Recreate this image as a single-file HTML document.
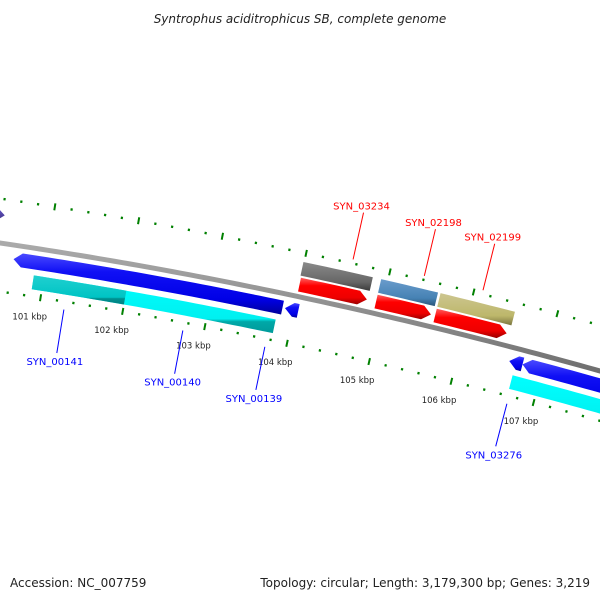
<!DOCTYPE html>
<html><head><meta charset="utf-8"><style>
html,body{margin:0;padding:0;background:#fff}
svg{display:block}
text{font-family:"DejaVu Sans","Liberation Sans",sans-serif}
</style></head><body>
<svg id="map" width="600" height="600" viewBox="0 0 600 600" xmlns="http://www.w3.org/2000/svg">
<defs>
<linearGradient id="gBlue" x1="0" y1="0" x2="0" y2="1"><stop offset="0" stop-color="#4a4aff"/><stop offset="0.3" stop-color="#1010f5"/><stop offset="0.75" stop-color="#0000e6"/><stop offset="1" stop-color="#00009a"/></linearGradient>
<linearGradient id="gCyan" x1="0" y1="0" x2="0" y2="1"><stop offset="0" stop-color="#00ffff"/><stop offset="0.75" stop-color="#00f0f0"/><stop offset="0.8" stop-color="#00a8a8"/><stop offset="1" stop-color="#009a9a"/></linearGradient>
<linearGradient id="gCyanD" x1="0" y1="0" x2="0" y2="1"><stop offset="0" stop-color="#20d0d0"/><stop offset="0.75" stop-color="#00c4c4"/><stop offset="0.8" stop-color="#009090"/><stop offset="1" stop-color="#008080"/></linearGradient>
<linearGradient id="gRed" x1="0" y1="0" x2="0" y2="1"><stop offset="0" stop-color="#ff6060"/><stop offset="0.3" stop-color="#ff0000"/><stop offset="0.75" stop-color="#ee0000"/><stop offset="1" stop-color="#990000"/></linearGradient>
<linearGradient id="gGray" x1="0" y1="0" x2="0" y2="1"><stop offset="0" stop-color="#8a8a8a"/><stop offset="0.7" stop-color="#666"/><stop offset="1" stop-color="#3a3a3a"/></linearGradient>
<linearGradient id="gSteel" x1="0" y1="0" x2="0" y2="1"><stop offset="0" stop-color="#6a9ccc"/><stop offset="0.7" stop-color="#4682b4"/><stop offset="1" stop-color="#2a5478"/></linearGradient>
<linearGradient id="gKhaki" x1="0" y1="0" x2="0" y2="1"><stop offset="0" stop-color="#cdc690"/><stop offset="0.7" stop-color="#bdb76b"/><stop offset="1" stop-color="#7a7540"/></linearGradient>
<linearGradient id="gPurple" x1="0" y1="0" x2="0" y2="1"><stop offset="0" stop-color="#6a5acd"/><stop offset="1" stop-color="#3a2f80"/></linearGradient>
<linearGradient id="gBack" x1="0" y1="0" x2="0" y2="1"><stop offset="0" stop-color="#b0b0b0"/><stop offset="0.5" stop-color="#888"/><stop offset="1" stop-color="#555"/></linearGradient>
</defs>
<text x="300" y="23" text-anchor="middle" font-size="12" font-style="italic" fill="#222">Syntrophus aciditrophicus SB, complete genome</text>
<g id="layer"></g>
<text x="10" y="587" font-size="12" fill="#222">Accession: NC_007759</text>
<text x="590" y="587" text-anchor="end" font-size="12" fill="#222">Topology: circular; Length: 3,179,300 bp; Genes: 3,219</text>
</svg>
<script>
// data (kbp)
const featStart = [100.35, 100.61, 100.88, 103.89, 106.60, 106.76, 106.68, 103.99, 104.00, 104.92, 104.92, 105.63, 105.63, 100.30];
const featEnd   = [100.43, 103.86, 103.81, 104.05, 106.76, 108.60, 108.60, 104.82, 104.81, 105.60, 105.58, 106.52, 106.49, 100.40];
const featStrand= [1, -1, 0, -1, -1, -1, 0, 0, 1, 0, 1, 0, 1, 1];
const featRing  = ['outer2','rev1','rev2','rev1','rev1','rev1','rev2','outer2','fwd1','outer2','fwd1','outer2','fwd1','fwd1'];
const featColor = ['gPurple','gBlue','gCyan','gBlue','gBlue','gBlue','gCyan','gGray','gRed','gSteel','gRed','gKhaki','gRed','gRed'];
const featName  = ['purple-feature','gene-syn-00141-00140','cds-syn-00141-00140','gene-syn-00139','gene-syn-03276-left','gene-syn-03276','cds-syn-03276','feature-syn-03234','gene-syn-03234','feature-syn-02198','gene-syn-02198','feature-syn-02199','gene-syn-02199','gene-left-red'];
const tickLabels = [101,102,103,104,105,106,107];
const geneLabels = ['SYN_00141','SYN_00140','SYN_00139','SYN_03276','SYN_03234','SYN_02198','SYN_02199'];
const geneLabelPos = [101.3, 102.75, 103.75, 106.7, 104.55, 105.4, 106.1];
const geneLabelSide = [1,1,1,1,-1,-1,-1];
const geneLabelColor = ['#0000ff','#0000ff','#0000ff','#0000ff','#ff0000','#ff0000','#ff0000'];

const rings = {outer2:[-35,-21], fwd1:[-19,-5], rev1:[7,21], rev2:[27,41]};
function fy(x){return 243+0.1467*x+1.11e-4*x*x;}
function fs(x){return 0.1467+2.22e-4*x;}
function P(k,off){const xb=48+(k-101)*83;const s=fs(xb);const n=Math.sqrt(1+s*s);return [xb-s/n*off, fy(xb)+off/n];}
const NS='http://www.w3.org/2000/svg';
const layer=document.getElementById('layer');
function mk(tag,attrs){const e=document.createElementNS(NS,tag);for(const k in attrs)e.setAttribute(k,attrs[k]);layer.appendChild(e);return e;}
function arc(a,b,off){const pts=[];const N=Math.max(2,Math.ceil((b-a)*10));for(let i=0;i<=N;i++)pts.push(P(a+(b-a)*i/N,off));return pts;}
// backbone
{const top=arc(99.5,109.5,-2.5), bot=arc(99.5,109.5,2.5).reverse();
const e=mk('polygon',{points:top.concat(bot).map(p=>p.join(',')).join(' '),fill:'url(#gBack)'});

}
// ticks
for(let i=0;i<=45;i++){const k=Math.round((100.0+i*0.2)*10)/10;const major=Math.abs(k-Math.round(k))<1e-6;
 for(const off of [-44,48]){const len=major?3.5:1.2;const a=P(k,off-len),b=P(k,off+len);
  const e=mk('line',{x1:a[0],y1:a[1],x2:b[0],y2:b[1],stroke:'#008000','stroke-width':major?2:2.2});
  
  }}
tickLabels.forEach(k=>{const p=P(k,66);const t=mk('text',{x:p[0]-8,y:p[1]+4,'text-anchor':'middle','font-size':'8.5',fill:'#222'});t.textContent=k+' kbp';
 
 });
// features
featStart.forEach((a,i)=>{const b=featEnd[i];const [r1,r2]=rings[featRing[i]];const st=featStrand[i];const h=0.1;let pts;
 if(st===1){const top=arc(a,b-h,r1),bot=arc(a,b-h,r2).reverse();pts=top.concat([P(b,(r1+r2)/2)]).concat(bot);}
 else if(st===-1){const top=arc(a+h,b,r1),bot=arc(a+h,b,r2).reverse();pts=[P(a,(r1+r2)/2)].concat(top).concat(bot);}
 else {pts=arc(a,b,r1).concat(arc(a,b,r2).reverse());}
 const e=mk('polygon',{points:pts.map(p=>p.join(',')).join(' '),fill:'url(#'+featColor[i]+')'});
 
 
 if(featColor[i]==='gCyan'&&i===2){const d=mk('polygon',{points:arc(a,102.0,r1).concat(arc(a,102.0,r2).reverse()).map(p=>p.join(',')).join(' '),fill:'url(#gCyanD)'});
  
  }
});
// gene labels
geneLabels.forEach((lab,i)=>{const k=geneLabelPos[i];const side=geneLabelSide[i];
 const a=side>0?P(k,56):P(k,-48), b=side>0?P(k,100):P(k,-96);
 const l=mk('line',{x1:a[0],y1:a[1],x2:b[0],y2:b[1],stroke:geneLabelColor[i],'stroke-width':1});
 
 
 const t=mk('text',{x:b[0]-2,y:side>0?b[1]+12:b[1]-3,'text-anchor':'middle','font-size':'10',fill:geneLabelColor[i]});t.textContent=lab;
 
 });
</script>
</body></html>
